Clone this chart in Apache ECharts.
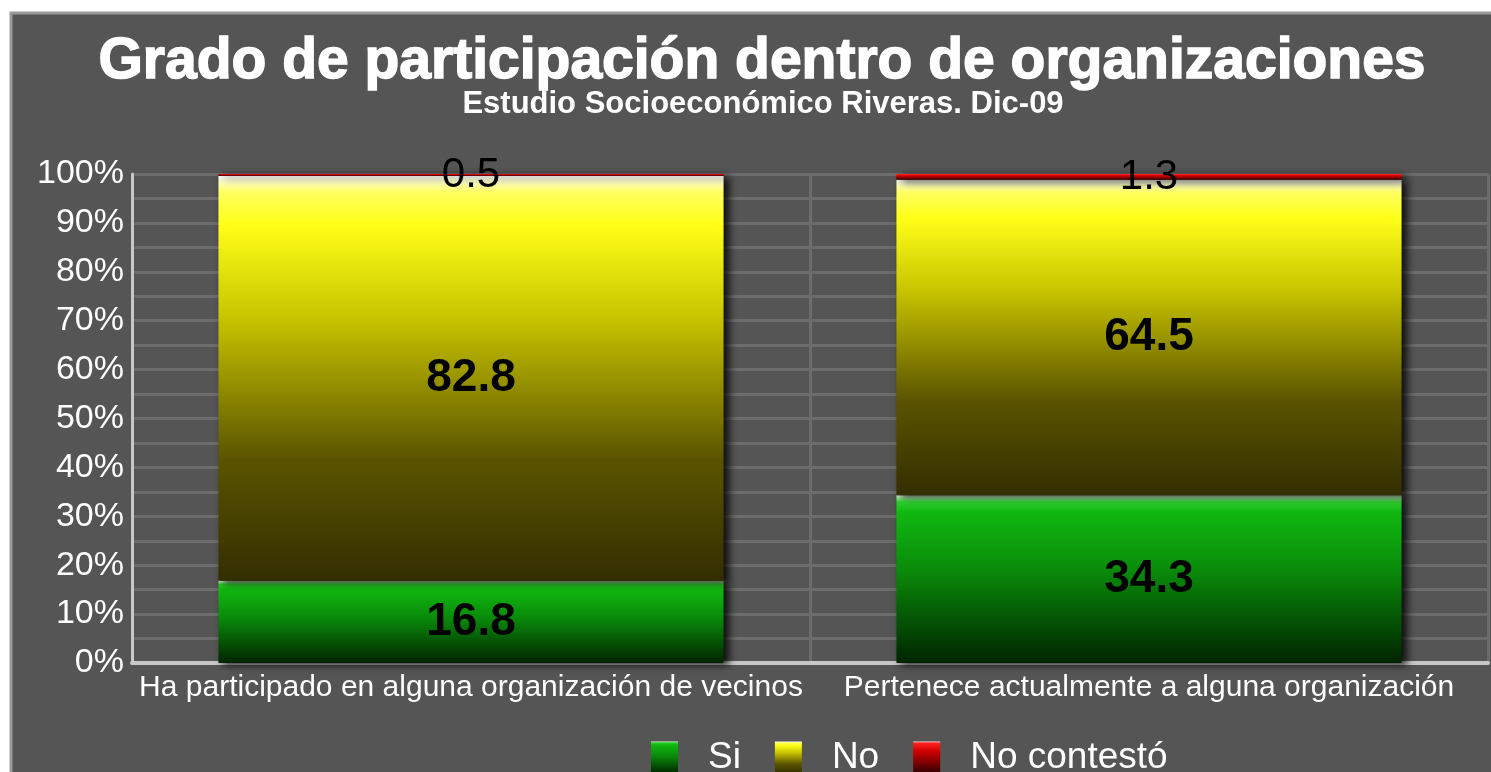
<!DOCTYPE html>
<html>
<head>
<meta charset="utf-8">
<script src="https://cdn.jsdelivr.net/npm/echarts@6/dist/echarts.min.js"></script>
<style>
  html, body { margin: 0; padding: 0; background: #ffffff; }
  #chart { width: 1491px; height: 772px; }
</style>
</head>
<body>
<div id="chart"></div>
<script>
var categories = ['Ha participado en alguna organización de vecinos', 'Pertenece actualmente a alguna organización'];
var siData = [16.8, 34.3];
var noData = [82.8, 64.5];
var ncData = [0.5, 1.3];
var yTicks = [0, 10, 20, 30, 40, 50, 60, 70, 80, 90, 100];

function grad(stops) {
    return new echarts.graphic.LinearGradient(0, 0, 0, 1, stops.map(function (s) {
        return { offset: s[0], color: s[1] };
    }));
}

var greenFill = grad([[0, '#d8f5d8'], [0.04, '#2fd02f'], [0.1, '#10b810'], [0.45, '#0a8a0a'], [1, '#002400']]);
var yellowFill = grad([[0, '#ffffff'], [0.04, '#ffff60'], [0.12, '#ffff18'], [0.35, '#c8c400'], [0.7, '#5a5400'], [1, '#332e00']]);
var redFill = grad([[0, '#ffd0d0'], [0.05, '#ff2020'], [0.3, '#d00000'], [1, '#300000']]);

var chart = echarts.init(document.getElementById('chart'));

var barShadow = {
    shadowColor: 'rgba(0,0,0,0.85)',
    shadowBlur: 8,
    shadowOffsetX: 5,
    shadowOffsetY: 2
};

var option = {
    backgroundColor: '#ffffff',
    graphic: [{
        type: 'rect',
        z: -10,
        silent: true,
        shape: { x: 11, y: 13, width: 1490, height: 770 },
        style: { fill: '#555555', stroke: '#9a9a9a', lineWidth: 3 }
    }],
    title: [{
        text: 'Grado de participación dentro de organizaciones',
        left: 757,
        textAlign: 'center',
        top: 29,
        textStyle: { color: '#ffffff', fontSize: 57, fontWeight: 'bold', fontFamily: 'Liberation Sans', textBorderColor: '#ffffff', textBorderWidth: 1.5 }
    }, {
        text: 'Estudio Socioeconómico Riveras. Dic-09',
        left: 758,
        textAlign: 'center',
        top: 84,
        textStyle: { color: '#ffffff', fontSize: 31, fontWeight: 'bold', fontFamily: 'Liberation Sans' }
    }],
    legend: {
        data: ['Si', 'No', 'No contestó'],
        icon: 'rect',
        left: 646,
        top: 734,
        itemWidth: 27,
        itemHeight: 32,
        itemGap: 34,
        textStyle: { color: '#ffffff', fontSize: 37, fontFamily: 'Liberation Sans', padding: [0, 0, 0, 25] }
    },
    grid: {
        left: 132,
        right: 3,
        top: 174,
        bottom: 109
    },
    xAxis: {
        type: 'category',
        data: categories,
        axisLine: { lineStyle: { color: '#c8c8c8', width: 4 } },
        axisTick: { show: false },
        axisLabel: { interval: 0, color: '#ffffff', fontSize: 30, fontFamily: 'Liberation Sans', margin: 10 },
        splitLine: { show: true, lineStyle: { color: '#6c6c6c', width: 3 } }
    },
    yAxis: {
        type: 'value',
        min: yTicks[0],
        max: yTicks[yTicks.length - 1],
        interval: 10,
        axisLine: { show: true, lineStyle: { color: '#c8c8c8', width: 3 } },
        axisTick: { show: false },
        axisLabel: { color: '#ffffff', fontSize: 34, fontFamily: 'Liberation Sans', formatter: '{value}%', margin: 8 },
        splitLine: { lineStyle: { color: '#6c6c6c', width: 3 } },
        minorTick: { show: false, splitNumber: 2 },
        minorSplitLine: { show: true, lineStyle: { color: '#6c6c6c', width: 3 } }
    },
    series: [{
        name: 'Si',
        type: 'bar',
        stack: 'total',
        barWidth: '74.5%',
        data: siData,
        itemStyle: Object.assign({ color: greenFill }, barShadow),
        label: { show: true, position: 'inside', color: '#000000', fontSize: 46, fontWeight: 'bold', fontFamily: 'Liberation Sans' }
    }, {
        name: 'No',
        type: 'bar',
        stack: 'total',
        data: noData,
        itemStyle: Object.assign({ color: yellowFill }, barShadow),
        label: { show: true, position: 'inside', color: '#000000', fontSize: 46, fontWeight: 'bold', fontFamily: 'Liberation Sans' }
    }, {
        name: 'No contestó',
        type: 'bar',
        stack: 'total',
        data: ncData,
        itemStyle: Object.assign({ color: redFill }, barShadow),
        label: { show: true, position: 'inside', color: '#000000', fontSize: 42, fontFamily: 'Liberation Sans' }
    }]
};

chart.setOption(option);
</script>
</body>
</html>
